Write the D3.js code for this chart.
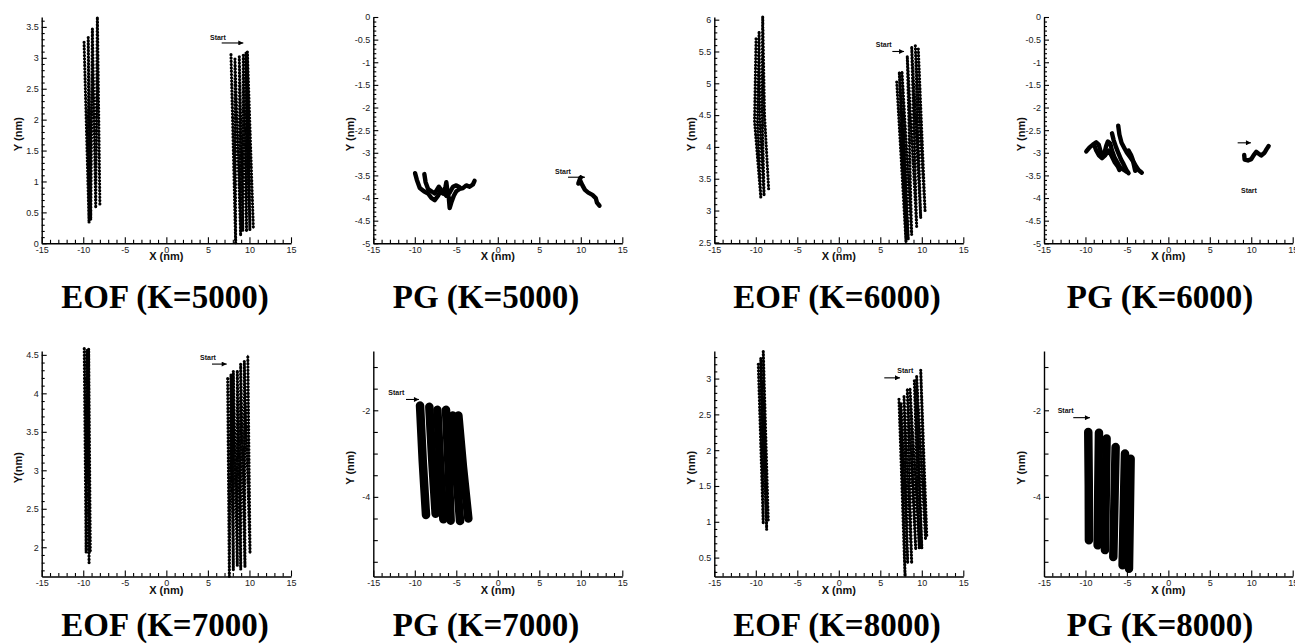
<!DOCTYPE html>
<html><head><meta charset="utf-8">
<script src="https://cdn.jsdelivr.net/npm/d3@7"></script>
<style>
body{margin:0;background:#fff}
</style>
</head><body>
<svg id="c" width="1295" height="644"></svg>
<script>
// ---------------- data ----------------
const panelTitles = ["EOF (K=5000)","PG (K=5000)","EOF (K=6000)","PG (K=6000)",
                     "EOF (K=7000)","PG (K=7000)","EOF (K=8000)","PG (K=8000)"];
const xLabels = ["X (nm)","X (nm)","X (nm)","X (nm)","X (nm)","X (nm)","X (nm)","X (nm)"];
const yLabels = ["Y (nm)","Y (nm)","Y (nm)","Y (nm)","Y(nm)","Y (nm)","Y (nm)","Y (nm)"];
const xDomain = [-15, 15];
const xMajorTicks = [-15,-10,-5,0,5,10,15];
const yDomains = [[0,3.66],[-5,0],[2.485,6.042],[-5,0],[1.62,4.55],[-5.84,-0.63],[0.236,3.385],[-5.84,-0.63]];
const yMajorTicks = [
  [0,0.5,1,1.5,2,2.5,3,3.5],
  [-5,-4.5,-4,-3.5,-3,-2.5,-2,-1.5,-1,-0.5,0],
  [2.5,3,3.5,4,4.5,5,5.5,6],
  [-5,-4.5,-4,-3.5,-3,-2.5,-2,-1.5,-1,-0.5,0],
  [2,2.5,3,3.5,4,4.5],
  [-4,-2],
  [0.5,1,1.5,2,2.5,3],
  [-4,-2]
];
const yMinorSteps = [0.1,0.1,0.1,0.1,0.1,0.5,0.1,0.5];

// EOF trajectories (two clusters each)
const eof5000Left  = [[-9.9,3.25],[-9.3,0.33],[-9.4,3.33],[-9.1,0.38],[-8.9,3.47],[-8.5,0.57],[-8.3,3.66],[-8.0,0.63]];
const eof5000Right = [[7.78,3.05],[8.34,0.0],[8.26,2.98],[8.94,0.12],[8.78,3.02],[9.2,0.2],[9.26,3.04],[9.65,0.19],[9.59,3.09],[10.05,0.21],[9.75,3.1],[10.47,0.24]];
const eof6000Left  = [[-9.97,5.70],[-10.15,4.4],[-9.4,3.21],[-9.8,4.4],[-9.6,5.82],[-9.55,4.5],[-9.0,3.23],[-9.25,4.6],[-9.17,6.05],[-8.95,4.5],[-8.45,3.33]];
const eof6000Right = [[6.98,5.02],[8.1,2.5],[7.29,5.18],[8.37,2.54],[7.61,5.19],[8.78,2.62],[8.25,5.43],[9.38,2.75],[8.78,5.58],[9.87,2.88],[9.22,5.59],[10.39,3.0],[9.58,5.54]];
const eof7000Left  = [[-9.88,4.58],[-9.65,1.93],[-9.55,4.57],[-9.3,1.80],[-9.35,4.58],[-9.15,1.93]];
const eof7000Right = [[7.38,4.19],[7.58,1.62],[7.78,4.25],[8.06,1.70],[8.06,4.29],[8.54,1.76],[8.54,4.30],[8.95,1.71],[8.94,4.38],[9.46,1.74],[9.38,4.42],[10.07,1.92],[9.8,4.5]];
const eof8000Left  = [[-9.7,3.20],[-9.1,0.97],[-9.4,3.29],[-8.69,0.89],[-9.1,3.38],[-8.5,1.02]];
const eof8000Right = [[7.25,2.71],[7.98,0.24],[7.5,2.65],[8.3,0.42],[7.86,2.75],[8.78,0.42],[8.25,2.86],[9.27,0.61],[8.58,2.87],[9.7,0.63],[9.1,2.97],[10.0,0.63],[9.38,3.03],[10.45,0.75],[9.87,3.12],[10.6,0.8]];

// PG trajectories
const pg5000A = [[-9.97,-3.45],[-9.75,-3.6],[-9.4,-3.78],[-8.9,-3.85],[-8.4,-3.9],[-8.0,-4.0],[-7.6,-4.05],[-7.2,-3.95],[-6.9,-3.85],[-6.6,-3.9],[-6.3,-3.75],[-6.2,-3.65],[-6.1,-3.8],[-5.9,-4.0],[-5.8,-4.22],[-5.6,-4.1],[-5.3,-3.95],[-5.0,-3.85],[-4.6,-3.8],[-4.2,-3.78],[-3.8,-3.72],[-3.4,-3.75],[-3.0,-3.7],[-2.8,-3.62]];
const pg5000B = [[-8.85,-3.47],[-8.7,-3.65],[-8.4,-3.8],[-8.0,-3.85],[-7.6,-3.9],[-7.1,-3.75],[-6.7,-3.85],[-6.2,-3.95],[-5.8,-3.88],[-5.4,-3.75],[-5.0,-3.72],[-4.6,-3.76]];
const pg5000C = [[9.95,-3.55],[9.7,-3.68],[9.95,-3.62],[10.2,-3.72],[10.5,-3.82],[10.9,-3.88],[11.4,-3.93],[11.8,-4.0],[11.95,-4.1],[12.25,-4.17]];
const pg6000A = [[-9.9,-2.97],[-9.5,-2.88],[-9.1,-2.82],[-8.7,-2.77],[-8.4,-2.82],[-8.2,-2.95],[-8.0,-3.08],[-7.7,-3.0],[-7.5,-2.85],[-7.3,-2.75],[-7.0,-2.8],[-6.8,-2.95],[-6.5,-3.1],[-6.2,-3.2],[-5.9,-3.3],[-5.6,-3.35],[-5.0,-3.42]];
const pg6000B = [[-8.9,-2.85],[-8.7,-2.95],[-8.4,-3.05],[-8.0,-3.12],[-7.6,-3.05],[-7.2,-2.95],[-6.9,-3.05],[-6.5,-3.2],[-6.1,-3.3],[-5.9,-3.38]];
const pg6000C = [[-6.8,-2.57],[-6.6,-2.72],[-6.3,-2.88],[-6.0,-3.02],[-5.7,-3.15],[-5.4,-3.25],[-5.0,-3.4],[-4.8,-3.45]];
const pg6000D = [[-6.05,-2.4],[-5.9,-2.6],[-5.65,-2.78],[-5.3,-2.9],[-5.0,-3.0],[-4.6,-3.1],[-4.2,-3.2],[-3.9,-3.3],[-3.6,-3.38],[-3.2,-3.44]];
const pg6000E = [[-4.8,-2.95],[-4.5,-3.05],[-4.3,-3.15],[-4.0,-3.4]];
const pg6000F = [[9.15,-3.05],[9.2,-3.15],[9.6,-3.17],[10.0,-3.14],[10.3,-3.05],[10.6,-2.98],[10.9,-3.02],[11.2,-3.06],[11.6,-3.0],[11.85,-2.92],[12.1,-2.85]];
const pg7000Strokes = [
  [[-9.37,-1.89],[-9.05,-3.15],[-8.65,-4.42]],
  [[-8.25,-1.92],[-7.9,-3.15],[-7.49,-4.39]],
  [[-7.28,-1.99],[-6.95,-3.25],[-6.56,-4.52]],
  [[-6.24,-1.99],[-5.95,-3.25],[-5.68,-4.55]],
  [[-5.44,-2.12],[-5.05,-3.3],[-4.55,-4.56]],
  [[-4.75,-2.12],[-4.2,-3.3],[-3.55,-4.5]]
];
const pg8000Strokes = [
  [[-9.66,-2.50],[-9.6,-3.75],[-9.58,-5.00]],
  [[-8.37,-2.52],[-8.45,-3.8],[-8.53,-5.12]],
  [[-7.45,-2.65],[-7.55,-3.95],[-7.65,-5.23]],
  [[-6.36,-2.85],[-6.5,-4.1],[-6.64,-5.39]],
  [[-5.23,-3.0],[-5.38,-4.3],[-5.52,-5.58]],
  [[-4.55,-3.12],[-4.65,-4.4],[-4.75,-5.66]]
];
// "Start" annotations in data units: arrow [x1, x2, y], label [x, y]
const startArrows = [[6.66,9.26,3.24],[8.46,10.5,-3.54],[6.45,7.86,5.50],[8.36,9.96,-2.78],
                     [5.49,7.26,4.38],[-11.06,-9.5,-1.75],[5.48,7.37,3.01],[-11.47,-9.46,-2.17]];
const startLabels = [[5.25,3.29],[6.89,-3.47],[4.45,5.57],[8.76,-3.88],
                     [4.05,4.43],[-13.19,-1.65],[7.05,3.08],[-13.35,-2.07]];

// ---------------- layout ----------------
const cols = [{x0:41.7,x1:291,tx:165},{x0:373.3,x1:622.3,tx:486},{x0:714.3,x1:963.3,tx:837},{x0:1044,x1:1292.7,tx:1160}];
const rows = [{yTop:17,yBot:243.3,ty:308},{yTop:351,yBot:576.5,ty:636}];
const panelTracks = [
  {kind:"eof", tracks:[eof5000Left,eof5000Right]},
  {kind:"pg",  tracks:[pg5000A,pg5000B,pg5000C], w:4.4},
  {kind:"eof", tracks:[eof6000Left,eof6000Right]},
  {kind:"pg",  tracks:[pg6000A,pg6000B,pg6000C,pg6000D,pg6000E,pg6000F], w:4.4},
  {kind:"eof", tracks:[eof7000Left,eof7000Right]},
  {kind:"pg",  tracks:pg7000Strokes, w:8.5},
  {kind:"eof", tracks:[eof8000Left,eof8000Right]},
  {kind:"pg",  tracks:pg8000Strokes, w:8.5}
];

const SANS = "'Liberation Sans',Arial,Helvetica,sans-serif";
const SERIF = "'Liberation Serif','Times New Roman',Times,serif";

const svg = d3.select("#c");
svg.append("rect").attr("width",1295).attr("height",644).attr("fill","#fff");
svg.append("defs").append("marker").attr("id","ah")
  .attr("viewBox","0 0 10 10").attr("refX",10).attr("refY",5)
  .attr("markerUnits","userSpaceOnUse").attr("markerWidth",7).attr("markerHeight",5)
  .attr("orient","auto")
  .append("path").attr("d","M0,0L10,5L0,10z").attr("fill","#000");

const fmt = v => { const s = String(+v.toFixed(2)); return s === "-0" ? "0" : s; };

function minorTicks(domain, step, majors) {
  const lo = Math.ceil(Math.min(...domain)/step - 1e-6), hi = Math.floor(Math.max(...domain)/step + 1e-6);
  const out = [];
  for (let i = lo; i <= hi; i++) {
    const v = +(i*step).toFixed(3);
    if (!majors.some(m => Math.abs(m - v) < 1e-6)) out.push(v);
  }
  return out;
}

panelTitles.forEach((title, i) => {
  const c = cols[i % 4], r = rows[Math.floor(i / 4)];
  const x = d3.scaleLinear().domain(xDomain).range([c.x0, c.x1]);
  const y = d3.scaleLinear().domain(yDomains[i]).range([r.yBot, r.yTop]);
  const g = svg.append("g");

  const styleAxis = sel => {
    sel.attr("font-family", null).attr("font-size", null);
    sel.selectAll("line").attr("stroke","#000").attr("stroke-width",1.1);
    sel.selectAll("path.domain").attr("stroke","#000").attr("stroke-width",1.4);
    sel.selectAll("text").style("font-family",SANS).style("font-size","9px").attr("fill","#222");
  };
  const yMinorLen = yMinorSteps[i] >= 0.5 ? -4.5 : -3;
  g.append("g").attr("transform",`translate(${c.x0},0)`)
    .call(d3.axisLeft(y).tickValues(minorTicks(yDomains[i], yMinorSteps[i], yMajorTicks[i])).tickSize(yMinorLen).tickFormat(""))
    .call(s => s.select(".domain").remove()).call(styleAxis);
  g.append("g").attr("transform",`translate(${c.x0},0)`)
    .call(d3.axisLeft(y).tickValues(yMajorTicks[i]).tickSize(-5).tickSizeOuter(0).tickPadding(3).tickFormat(fmt))
    .call(styleAxis);
  g.append("g").attr("transform",`translate(0,${r.yBot})`)
    .call(d3.axisBottom(x).tickValues(minorTicks(xDomain, 1, xMajorTicks)).tickSize(-3.5).tickFormat(""))
    .call(s => s.select(".domain").remove()).call(styleAxis);
  g.append("g").attr("transform",`translate(0,${r.yBot})`)
    .call(d3.axisBottom(x).tickValues(xMajorTicks).tickSize(-6).tickSizeOuter(0).tickPadding(3).tickFormat(fmt))
    .call(styleAxis);

  // axis labels
  g.append("text").attr("x", x(0)).attr("y", r.yBot + 17).attr("text-anchor","middle")
    .style("font-family",SANS).style("font-size","11px").style("font-weight","bold").attr("fill","#111").text(xLabels[i]);
  const ym = (r.yTop + r.yBot) / 2 + 4;
  g.append("text").attr("transform",`translate(${c.x0 - 19.5},${ym}) rotate(-90)`)
    .attr("text-anchor","middle").style("font-family",SANS).style("font-size","11px").style("font-weight","bold")
    .attr("fill","#111").text(yLabels[i]);

  // trajectories
  const line = d3.line().x(d => x(d[0])).y(d => y(d[1]));
  const pt = panelTracks[i];
  pt.tracks.forEach(tr => {
    if (pt.kind === "eof") {
      g.append("path").attr("d", line(tr)).attr("fill","none").attr("stroke","#000").attr("stroke-width",0.9);
      g.append("path").attr("d", line(tr)).attr("fill","none").attr("stroke","#000")
        .attr("stroke-width",3.2).attr("stroke-linecap","round").attr("stroke-dasharray","0 3.3");
    } else {
      g.append("path").attr("d", line(tr)).attr("fill","none").attr("stroke","#000")
        .attr("stroke-width",pt.w).attr("stroke-linecap","round").attr("stroke-linejoin","round");
    }
  });

  // start annotation
  const a = startArrows[i], l = startLabels[i];
  g.append("line").attr("x1", x(a[0])).attr("x2", x(a[1])).attr("y1", y(a[2])).attr("y2", y(a[2]))
    .attr("stroke","#000").attr("stroke-width",1.1).attr("marker-end","url(#ah)");
  g.append("text").attr("x", x(l[0])).attr("y", y(l[1]))
    .style("font-family",SANS).style("font-size","7px").style("font-weight","bold")
    .attr("fill","#111").text("Start");

  // title
  svg.append("text").attr("x", c.tx).attr("y", r.ty).attr("text-anchor","middle")
    .style("font-family",SERIF).style("font-weight","bold").style("font-size","33px")
    .attr("fill","#000").text(title);
});
</script>
</body></html>
